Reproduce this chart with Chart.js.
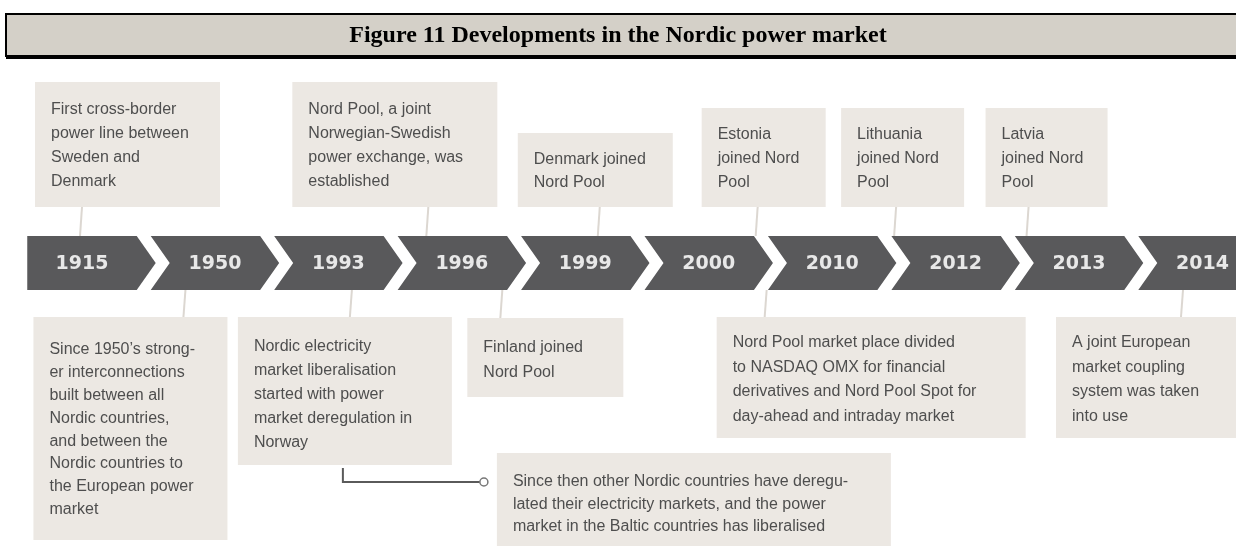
<!DOCTYPE html>
<html>
<head>
<meta charset="utf-8">
<title>Developments in the Nordic power market</title>
<script src="https://cdn.jsdelivr.net/npm/chart.js@4.4.1/dist/chart.umd.min.js"></script>
<style>
  html, body { margin: 0; padding: 0; background: #fff; }
  canvas { display: block; }
</style>
</head>
<body>
<canvas id="timeline" width="1236" height="546"></canvas>
<script>
const titleText = 'Figure 11 Developments in the Nordic power market';

// timeline steps
const years = ['1915', '1950', '1993', '1996', '1999', '2000', '2010', '2012', '2013', '2014'];
// every step gets the same band height, chevrons are drawn over the bars
const band = [1, 1, 1, 1, 1, 1, 1, 1, 1, 1];

// events above the band
const aboveYears = ['1915', '1996', '1999', '2010', '2012', '2013'];
const aboveTexts = [
  ['First cross-border', 'power line between', 'Sweden and', 'Denmark'],
  ['Nord Pool, a joint', 'Norwegian-Swedish', 'power exchange, was', 'established'],
  ['Denmark joined', 'Nord Pool'],
  ['Estonia', 'joined Nord', 'Pool'],
  ['Lithuania', 'joined Nord', 'Pool'],
  ['Latvia', 'joined Nord', 'Pool']
];

// events below the band
const belowYears = ['1950', '1993', '1996', '1993', '2010', '2014'];
const belowTexts = [
  ['Since 1950\u2019s strong-', 'er interconnections', 'built between all', 'Nordic countries,', 'and between the', 'Nordic countries to', 'the European power', 'market'],
  ['Nordic electricity', 'market liberalisation', 'started with power', 'market deregulation in', 'Norway'],
  ['Finland joined', 'Nord Pool'],
  ['Since then other Nordic countries have deregu-', 'lated their electricity markets, and the power', 'market in the Baltic countries has liberalised'],
  ['Nord Pool market place divided', 'to NASDAQ OMX for financial', 'derivatives and Nord Pool Spot for', 'day-ahead and intraday market'],
  ['A joint European', 'market coupling', 'system was taken', 'into use']
];

// box placement relative to the year's position on the x scale
const aboveLayout = [
  { dx: -47, top: 82, w: 185, h: 125, tail: 0, first: 28, lh: 24 },
  { dx: -160, top: 82, w: 205, h: 125, tail: -24, first: 28, lh: 24 },
  { dx: -58, top: 133, w: 155, h: 74, tail: 24, first: 27, lh: 23 },
  { dx: -121, top: 108, w: 124, h: 99, tail: -65, first: 27, lh: 24 },
  { dx: -105, top: 108, w: 123, h: 99, tail: -50, first: 27, lh: 24 },
  { dx: -84, top: 108, w: 122, h: 99, tail: -41, first: 27, lh: 24 }
];
const belowLayout = [
  { dx: -172, top: 317, w: 194, h: 223, tail: -22, first: 33, lh: 22.8 },
  { dx: -91, top: 317, w: 214, h: 148, tail: 21, first: 30, lh: 24 },
  { dx: 15, top: 318, w: 156, h: 79, tail: 48, first: 30, lh: 25 },
  { dx: 168, top: 453, w: 394, h: 93, tail: null, first: 29, lh: 22.5 },
  { dx: -106, top: 317, w: 309, h: 121, tail: -58, first: 26, lh: 24.5 },
  { dx: -137, top: 317, w: 185, h: 121, tail: -12, first: 26, lh: 24.5 }
];

const chevronColor = '#59595b';
const boxColor = '#ece8e3';
const tailColor = '#dcd7d1';
const noteFont = '16px "Liberation Sans", Arial, sans-serif';
const noteColor = '#4e4e4e';

function drawBox(ctx, x, b) {
  ctx.fillStyle = boxColor;
  ctx.fillRect(x + b.dx, b.top, b.w, b.h);
}

function drawLines(ctx, x, b, lines) {
  ctx.fillStyle = noteColor;
  ctx.font = noteFont;
  ctx.textAlign = 'left';
  ctx.textBaseline = 'middle';
  lines.forEach((ln, k) => {
    ctx.fillText(ln, x + b.dx + 16, b.top + b.first + k * b.lh);
  });
}

const timelinePlugin = {
  id: 'timeline',
  beforeDraw(chart) {
    const ctx = chart.ctx;
    // title bar
    ctx.save();
    ctx.fillStyle = '#d4d0c8';
    ctx.fillRect(5, 13, 1240, 44);
    ctx.strokeStyle = '#000';
    ctx.lineWidth = 2;
    ctx.beginPath();
    ctx.moveTo(1240, 14); ctx.lineTo(6, 14); ctx.lineTo(6, 56); ctx.lineTo(1240, 56);
    ctx.stroke();
    ctx.lineWidth = 2;
    ctx.beginPath();
    ctx.moveTo(6, 58); ctx.lineTo(1240, 58);
    ctx.stroke();
    ctx.fillStyle = '#000';
    ctx.font = 'bold 24px "Liberation Serif", "DejaVu Serif", serif';
    ctx.textAlign = 'center';
    ctx.textBaseline = 'middle';
    ctx.fillText(titleText, 618, 36);
    ctx.restore();
  },
  afterDatasetsDraw(chart) {
    const ctx = chart.ctx;
    const xs = chart.scales.x;
    const meta = chart.getDatasetMeta(0);
    const g = 14, d = 19;
    ctx.save();

    // tails first so the boxes sit on top
    const bandTop = chart.chartArea.top;
    const bandBottom = chart.chartArea.bottom;
    ctx.strokeStyle = tailColor;
    ctx.lineWidth = 2;
    aboveYears.forEach((y, i) => {
      const x = xs.getPixelForValue(years.indexOf(y));
      const b = aboveLayout[i];
      ctx.beginPath();
      ctx.moveTo(x + b.tail, b.top + b.h);
      ctx.lineTo(x + b.tail - 2, bandTop);
      ctx.stroke();
    });
    belowYears.forEach((y, i) => {
      const b = belowLayout[i];
      if (b.tail === null) return;
      const x = xs.getPixelForValue(years.indexOf(y));
      ctx.beginPath();
      ctx.moveTo(x + b.tail + 2, bandBottom);
      ctx.lineTo(x + b.tail, b.top);
      ctx.stroke();
    });

    // chevrons
    meta.data.forEach((el, i) => {
      const { x, y, base, width } = el.getProps(['x', 'y', 'base', 'width'], true);
      const left = x - width / 2 + g / 2;
      const right = x + width / 2 - g / 2;
      const mid = (y + base) / 2;
      ctx.fillStyle = chevronColor;
      ctx.beginPath();
      ctx.moveTo(left, y);
      ctx.lineTo(right, y);
      ctx.lineTo(right + d, mid);
      ctx.lineTo(right, base);
      ctx.lineTo(left, base);
      if (i > 0) ctx.lineTo(left + d, mid);
      ctx.closePath();
      ctx.fill();

      ctx.fillStyle = '#e8e8e8';
      ctx.font = 'bold 19px "DejaVu Sans", sans-serif';
      ctx.textAlign = 'center';
      ctx.textBaseline = 'middle';
      ctx.fillText(years[i], i === 0 ? x : x + d / 2, mid + 1);
    });

    // boxes and their text
    aboveYears.forEach((y, i) => {
      const x = xs.getPixelForValue(years.indexOf(y));
      drawBox(ctx, x, aboveLayout[i]);
      drawLines(ctx, x, aboveLayout[i], aboveTexts[i]);
    });
    belowYears.forEach((y, i) => {
      const x = xs.getPixelForValue(years.indexOf(y));
      drawBox(ctx, x, belowLayout[i]);
      drawLines(ctx, x, belowLayout[i], belowTexts[i]);
    });

    // connector from the 1993 box to the follow-up note
    const x93 = xs.getPixelForValue(years.indexOf('1993'));
    const h = belowLayout[1];
    ctx.strokeStyle = '#5a5a5a';
    ctx.lineWidth = 2;
    ctx.beginPath();
    ctx.moveTo(x93 + 14, h.top + h.h + 3);
    ctx.lineTo(x93 + 14, 482);
    ctx.lineTo(x93 + 151, 482);
    ctx.stroke();
    ctx.fillStyle = '#fff';
    ctx.strokeStyle = '#777';
    ctx.lineWidth = 1.5;
    ctx.beginPath();
    ctx.arc(x93 + 155, 482, 4, 0, Math.PI * 2);
    ctx.fill();
    ctx.stroke();

    ctx.restore();
  }
};

new Chart(document.getElementById('timeline'), {
  type: 'bar',
  data: {
    labels: years,
    datasets: [{
      data: band,
      backgroundColor: 'rgba(0,0,0,0)',
      borderWidth: 0,
      categoryPercentage: 1,
      barPercentage: 1
    }]
  },
  options: {
    responsive: false,
    devicePixelRatio: 1,
    animation: false,
    layout: { padding: { left: 82, right: 43, top: 236, bottom: 256 } },
    scales: {
      x: { type: 'category', offset: false, display: false },
      y: { min: 0, max: 1, display: false }
    },
    plugins: {
      legend: { display: false },
      tooltip: { enabled: false }
    },
    events: []
  },
  plugins: [timelinePlugin]
});
</script>
</body>
</html>
